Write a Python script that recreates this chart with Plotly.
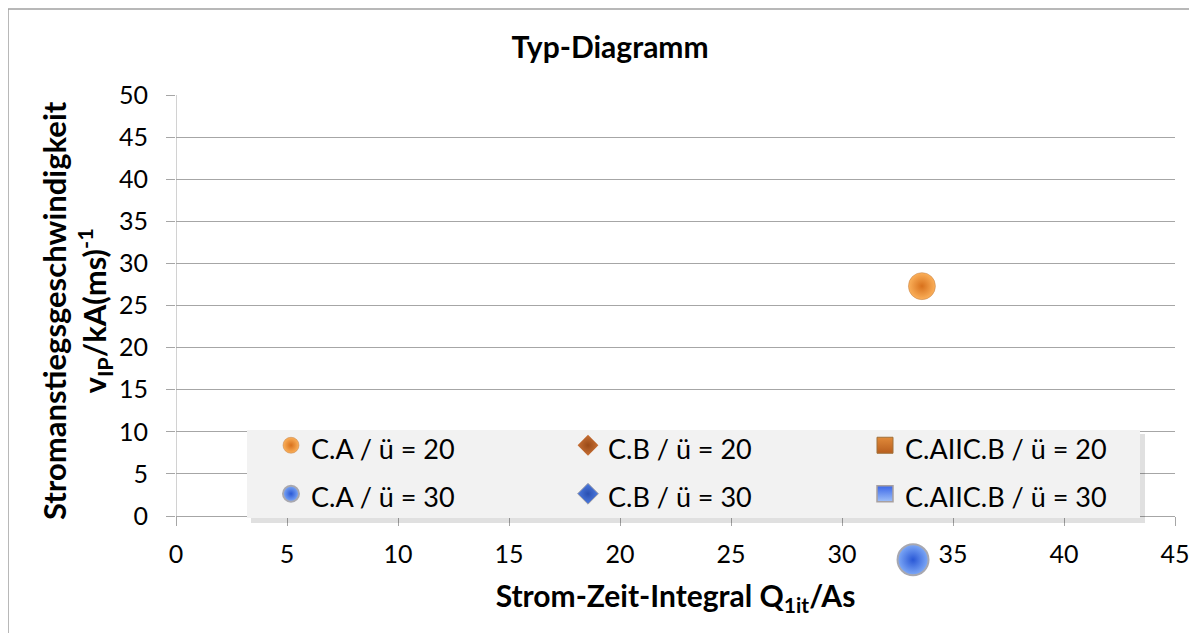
import plotly.graph_objects as go

# ---- data ----
x_ticks = [0, 5, 10, 15, 20, 25, 30, 35, 40, 45]
y_ticks = [0, 5, 10, 15, 20, 25, 30, 35, 40, 45, 50]

ca20_x = [33.6]
ca20_y = [27.3]
ca30_x = [33.2]
ca30_y = [-5.2]

series_names = ["C.A / ü = 20", "C.B / ü = 20", "C.AIIC.B / ü = 20",
                "C.A / ü = 30", "C.B / ü = 30", "C.AIIC.B / ü = 30"]

# page has an 8px body margin -> work in shifted coordinates
W, H = 1189, 625
L, R, T = 168, 1167, 87
Y0 = 508            # pixel row of y = 0
PB = 600            # bottom of plotting area
unit = (Y0 - T) / 50.0
y_min = -(PB - Y0) / unit

def px(xp):
    return (xp - L) / (R - L)

def py(yp):
    return (PB - yp) / (PB - T)

orange_c, orange_e = "#FBB05A", "#D8711C"
blue_c, blue_e = "#7FAAF7", "#2A58D6"

fig = go.Figure()

fig.add_trace(go.Scatter(x=ca20_x, y=ca20_y, mode="markers", name=series_names[0],
                         marker=dict(symbol="circle", size=27, color=orange_c,
                                     gradient=dict(type="radial", color=orange_e),
                                     line=dict(color="#C0804A", width=0.5))))
fig.add_trace(go.Scatter(x=[None], y=[None], mode="markers", name=series_names[1],
                         marker=dict(symbol="diamond", size=17, color="#C87035",
                                     gradient=dict(type="radial", color="#9A4A18"))))
fig.add_trace(go.Scatter(x=[None], y=[None], mode="markers", name=series_names[2],
                         marker=dict(symbol="square", size=16, color="#E08A3A",
                                     gradient=dict(type="vertical", color="#B85E1E"),
                                     line=dict(color="#A0703A", width=1))))
fig.add_trace(go.Scatter(x=ca30_x, y=ca30_y, mode="markers", name=series_names[3],
                         marker=dict(symbol="circle", size=31, color=blue_c,
                                     gradient=dict(type="radial", color=blue_e),
                                     line=dict(color="#A8A8B0", width=2))))
fig.add_trace(go.Scatter(x=[None], y=[None], mode="markers", name=series_names[4],
                         marker=dict(symbol="diamond", size=17, color="#4D7BE0",
                                     gradient=dict(type="radial", color="#2A4FB0"),
                                     line=dict(color="#A0A0A8", width=1))))
fig.add_trace(go.Scatter(x=[None], y=[None], mode="markers", name=series_names[5],
                         marker=dict(symbol="square", size=16, color="#3A66E8",
                                     gradient=dict(type="vertical", color="#9FC0F8"),
                                     line=dict(color="#A8A0A0", width=1.5))))

# legend text shown at 27px while row height follows the larger legend font
for tr in fig.data:
    tr.name = '<span style="font-size:27px">' + tr.name + '</span>'

font_family = "Lato, 'Open Sans', sans-serif"
grid_col = "#A6A6A6"

shapes = [
    # legend shadow
    dict(type="rect", xref="paper", yref="paper",
         x0=px(243), x1=px(1137), y0=py(515), y1=py(426),
         fillcolor="rgba(0,0,0,0.12)", line=dict(width=0), layer="above"),
    # legend box
    dict(type="rect", xref="paper", yref="paper",
         x0=px(239), x1=px(1132), y0=py(510), y1=py(422),
         fillcolor="#F2F2F2", line=dict(width=0), layer="above"),
    # y axis line (from top down to tick length below 0)
    dict(type="line", xref="x", yref="y", x0=0, x1=0, y0=50, y1=-9 / unit,
         line=dict(color=grid_col, width=1), layer="below"),
    # page frame
    dict(type="line", xref="paper", yref="paper",
         x0=px(0), x1=px(W), y0=py(1), y1=py(1),
         line=dict(color="#A0A0A0", width=1.5)),
    dict(type="line", xref="paper", yref="paper",
         x0=px(0), x1=px(0), y0=py(1), y1=py(H),
         line=dict(color="#A0A0A0", width=1.5)),
]

annotations = [
    dict(text="<b>Stromanstiegsgeschwindigkeit<br>v<sub>IP</sub>/kA(ms)<sup>-1</sup></b>",
         textangle=-90, xref="paper", yref="paper", x=px(68), y=py(303),
         xanchor="center", yanchor="middle", showarrow=False,
         font=dict(size=31, family=font_family, color="black")),
]

fig.update_layout(
    width=W, height=H,
    margin=dict(l=L, r=W - R, t=T, b=H - PB, autoexpand=False),
    paper_bgcolor="white", plot_bgcolor="white",
    font=dict(family=font_family, size=25, color="black"),
    title=dict(text="<b>Typ-Diagramm</b>", x=px(602), xref="paper", y=1 - 39 / H,
               yanchor="middle", xanchor="center", automargin=False,
               font=dict(size=30, family=font_family)),
    showlegend=True,
    legend=dict(orientation="h", x=px(263), y=py(408), xanchor="left", yanchor="top",
                bgcolor="rgba(0,0,0,0)", font=dict(size=35, family=font_family),
                entrywidth=252, entrywidthmode="pixels",
                itemsizing="trace", borderwidth=0),
    shapes=shapes,
    annotations=annotations,
    xaxis=dict(range=[0, 45], tickvals=x_ticks, ticktext=[str(v) for v in x_ticks],
               showgrid=False, zeroline=False, showline=True, linecolor=grid_col,
               linewidth=1, ticks="outside", ticklen=9, tickcolor=grid_col,
               anchor="free", position=py(Y0),
               ticklabelstandoff=7, tickfont=dict(size=25), automargin=False,
               title=dict(text="<b>Strom-Zeit-Integral Q<sub>1it</sub>/As</b>",
                          font=dict(size=30), standoff=18)),
    yaxis=dict(range=[y_min, 50], tickvals=y_ticks, ticktext=[str(v) for v in y_ticks],
               showgrid=True, gridcolor=grid_col, gridwidth=1, zeroline=False,
               showline=False,
               ticks="outside", ticklen=9, tickcolor=grid_col,
               ticklabelstandoff=13, tickfont=dict(size=25), automargin=False),
)

fig.write_html("out.html")
